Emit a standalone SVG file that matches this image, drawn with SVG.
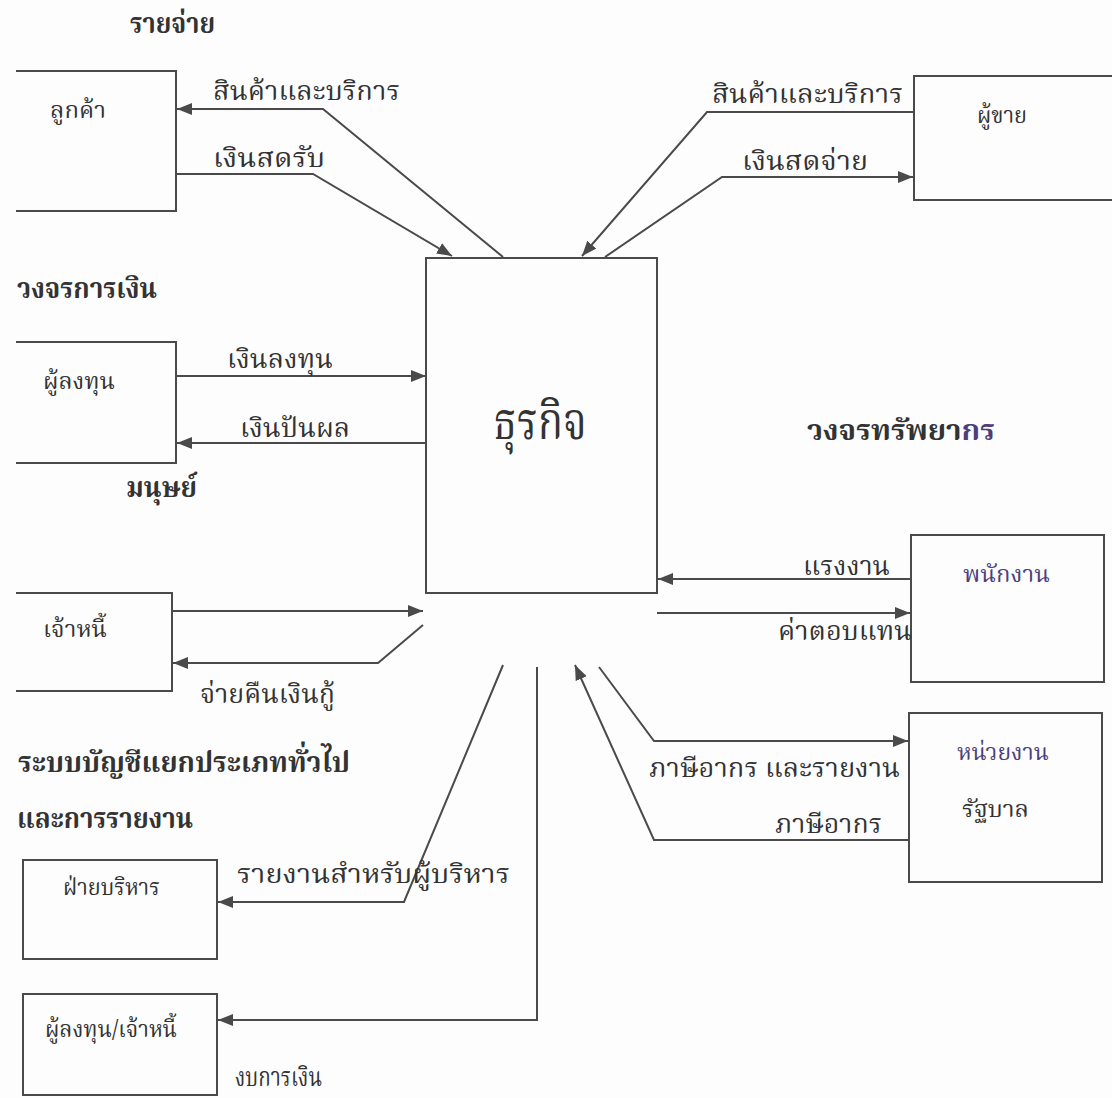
<svg xmlns="http://www.w3.org/2000/svg" width="1112" height="1098" viewBox="0 0 1112 1098">
<defs>
<style>
.bg{fill:#fdfdfd}
.box{fill:none;stroke:#4a4a4a;stroke-width:2}
.ln{fill:none;stroke:#4a4a4a;stroke-width:2}
.t{font-family:"Noto Serif Thai","Noto Sans Thai","Noto Sans","DejaVu Sans",serif;fill:#333}
.head{font-size:29px;font-weight:bold}
.lbl{font-size:27px}
.node{font-size:23px}
.big{font-size:52px}
.pur{fill:#4e3f7c}
</style>
<marker id="ah" markerUnits="userSpaceOnUse" markerWidth="16" markerHeight="12" refX="15" refY="6" orient="auto">
<path d="M0,0 L15,6 L0,12 z" fill="#4a4a4a"/>
</marker>
</defs>
<rect class="bg" x="0" y="0" width="1112" height="1098"/>

<g id="headings">
<text class="t head" x="130" y="33" textLength="85" lengthAdjust="spacingAndGlyphs">รายจ่าย</text>
<text class="t head" x="17" y="298" textLength="140" lengthAdjust="spacingAndGlyphs">วงจรการเงิน</text>
<text class="t head" x="126" y="497" textLength="71" lengthAdjust="spacingAndGlyphs">มนุษย์</text>
<text class="t head" x="18" y="772" textLength="332" lengthAdjust="spacingAndGlyphs">ระบบบัญชีแยกประเภททั่วไป</text>
<text class="t head" x="17" y="828" textLength="176" lengthAdjust="spacingAndGlyphs">และการรายงาน</text>
<text class="t head" x="807" y="440" textLength="188" lengthAdjust="spacingAndGlyphs">วงจรทรัพยา<tspan class="pur">กร</tspan></text>
</g>

<g id="node-customer">
<path class="box" d="M16,71 H176 V211 H16"/>
<text class="t node" x="50" y="118" textLength="56" lengthAdjust="spacingAndGlyphs">ลูกค้า</text>
</g>
<g id="node-seller">
<path class="box" d="M1112,76 H914 V200 H1112"/>
<text class="t node" x="977" y="123" textLength="50" lengthAdjust="spacingAndGlyphs">ผู้ขาย</text>
</g>
<g id="node-investor">
<path class="box" d="M16,342 H176 V463 H16"/>
<text class="t node" x="43" y="389" textLength="72" lengthAdjust="spacingAndGlyphs">ผู้ลงทุน</text>
</g>
<g id="node-creditor">
<path class="box" d="M16,593 H172 V691 H16"/>
<text class="t node" x="43" y="637" textLength="64" lengthAdjust="spacingAndGlyphs">เจ้าหนี้</text>
</g>
<g id="node-business">
<rect class="box" x="426" y="258" width="231" height="335"/>
<text class="t big" x="493" y="439" textLength="94" lengthAdjust="spacingAndGlyphs">ธุรกิจ</text>
</g>
<g id="node-employee">
<rect class="box" x="911" y="535" width="193" height="147"/>
<text class="t node pur" x="963" y="582" textLength="87" lengthAdjust="spacingAndGlyphs">พนักงาน</text>
</g>
<g id="node-government">
<rect class="box" x="909" y="713" width="193" height="169"/>
<text class="t node pur" x="957" y="760" textLength="92" lengthAdjust="spacingAndGlyphs">หน่วยงาน</text>
<text class="t node" x="962" y="817" textLength="67" lengthAdjust="spacingAndGlyphs">รัฐบาล</text>
</g>
<g id="node-management">
<rect class="box" x="23" y="860" width="194" height="99"/>
<text class="t node" x="63" y="895" textLength="97" lengthAdjust="spacingAndGlyphs">ฝ่ายบริหาร</text>
</g>
<g id="node-inv-cred">
<rect class="box" x="23" y="994" width="194" height="101"/>
<text class="t node" x="45" y="1037" textLength="132" lengthAdjust="spacingAndGlyphs">ผู้ลงทุน/เจ้าหนี้</text>
</g>

<g id="connectors">
<path class="ln" d="M503,257 L323,109 L177,109" marker-end="url(#ah)"/>
<path class="ln" d="M176,174 L313,174 L452,256" marker-end="url(#ah)"/>
<path class="ln" d="M914,112 L707,112 L582,256" marker-end="url(#ah)"/>
<path class="ln" d="M605,257 L722,177 L913,177" marker-end="url(#ah)"/>
<path class="ln" d="M176,376 L426,376" marker-end="url(#ah)"/>
<path class="ln" d="M426,443 L177,443" marker-end="url(#ah)"/>
<path class="ln" d="M172,611 L423,611" marker-end="url(#ah)"/>
<path class="ln" d="M423,625 L378,663 L173,663" marker-end="url(#ah)"/>
<path class="ln" d="M911,579 L658,579" marker-end="url(#ah)"/>
<path class="ln" d="M657,613 L910,613" marker-end="url(#ah)"/>
<path class="ln" d="M599,667 L654,741 L908,741" marker-end="url(#ah)"/>
<path class="ln" d="M909,840 L654,840 L575,665" marker-end="url(#ah)"/>
<path class="ln" d="M503,665 L404,902 L218,902" marker-end="url(#ah)"/>
<path class="ln" d="M537,667 L537,1020 L218,1020" marker-end="url(#ah)"/>
</g>

<g id="labels">
<text class="t lbl" x="213" y="100" textLength="187" lengthAdjust="spacingAndGlyphs">สินค้าและบริการ</text>
<text class="t lbl" x="213" y="167" textLength="112" lengthAdjust="spacingAndGlyphs">เงินสดรับ</text>
<text class="t lbl" x="712" y="103" textLength="191" lengthAdjust="spacingAndGlyphs">สินค้าและบริการ</text>
<text class="t lbl" x="742" y="170" textLength="126" lengthAdjust="spacingAndGlyphs">เงินสดจ่าย</text>
<text class="t lbl" x="227" y="368" textLength="106" lengthAdjust="spacingAndGlyphs">เงินลงทุน</text>
<text class="t lbl" x="240" y="437" textLength="110" lengthAdjust="spacingAndGlyphs">เงินปันผล</text>
<text class="t lbl" x="200" y="703" textLength="135" lengthAdjust="spacingAndGlyphs">จ่ายคืนเงินกู้</text>
<text class="t lbl" x="803" y="575" textLength="87" lengthAdjust="spacingAndGlyphs">แรงงาน</text>
<text class="t lbl" x="778" y="640" textLength="134" lengthAdjust="spacingAndGlyphs">ค่าตอบแทน</text>
<text class="t lbl" x="649" y="777" textLength="251" lengthAdjust="spacingAndGlyphs">ภาษีอากร และรายงาน</text>
<text class="t lbl" x="775" y="833" textLength="107" lengthAdjust="spacingAndGlyphs">ภาษีอากร</text>
<text class="t lbl" x="237" y="883" textLength="273" lengthAdjust="spacingAndGlyphs">รายงานสำหรับผู้บริหาร</text>
<text class="t lbl" x="235" y="1086" textLength="87" lengthAdjust="spacingAndGlyphs" font-size="25">งบการเงิน</text>
</g>
</svg>
